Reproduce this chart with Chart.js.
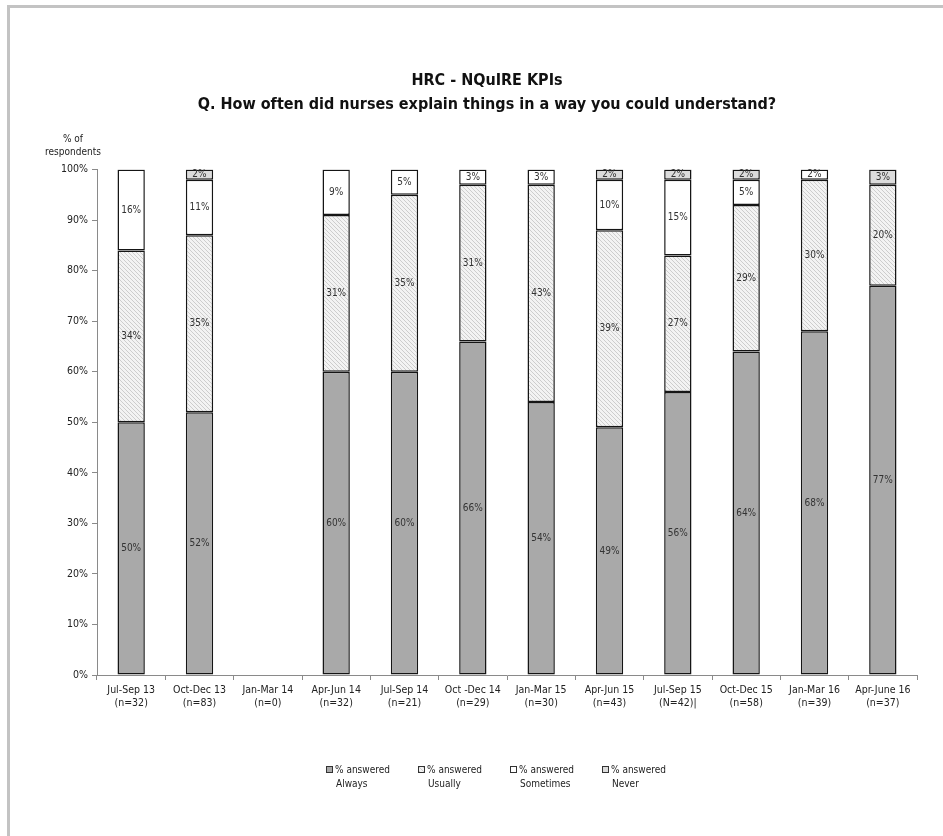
<!DOCTYPE html>
<html>
<head>
<meta charset="utf-8">
<script src="https://cdn.jsdelivr.net/npm/chart.js@4.4.1/dist/chart.umd.min.js"></script>
<style>
  body { margin: 0; background: #fff; }
  #frame { position: absolute; left: 7px; top: 5px; width: 960px; height: 900px;
           border-top: 3px solid #c3c3c3; border-left: 3px solid #c3c3c3; }
  #wrap { position: absolute; left: 0; top: 0; width: 943px; height: 836px; }
</style>
</head>
<body>
<div id="frame"></div>
<div id="wrap"><canvas id="chart" width="943" height="836"></canvas></div>
<script>
// quarters and sample sizes
const quarters = ['Jul-Sep 13', 'Oct-Dec 13', 'Jan-Mar 14', 'Apr-Jun 14', 'Jul-Sep 14', 'Oct -Dec 14',
                  'Jan-Mar 15', 'Apr-Jun 15', 'Jul-Sep 15', 'Oct-Dec 15', 'Jan-Mar 16', 'Apr-June 16'];
const sampleSizes = ['(n=32)', '(n=83)', '(n=0)', '(n=32)', '(n=21)', '(n=29)',
                     '(n=30)', '(n=43)', '(N=42)|', '(n=58)', '(n=39)', '(n=37)'];

// % of respondents per answer
const always    = [50, 52, null, 60, 60, 66, 54, 49, 56, 64, 68, 77];
const usually   = [34, 35, null, 31, 35, 31, 43, 39, 27, 29, 30, 20];
const sometimes = [16, 11, null,  9,  5,  3,  3, 10, 15,  5,  2,  0];
const never     = [ 0,  2, null,  0,  0,  0,  0,  2,  2,  2,  0,  3];

const yTicks = [0, 10, 20, 30, 40, 50, 60, 70, 80, 90, 100];

const FONT = '"Liberation Sans Narrow", "DejaVu Sans Condensed", "Liberation Sans", sans-serif';

// diagonal hatch for "Usually"
function makeHatch() {
    const c = document.createElement('canvas');
    c.width = 4; c.height = 4;
    const g = c.getContext('2d');
    g.fillStyle = '#f3f3f3';
    g.fillRect(0, 0, 4, 4);
    g.strokeStyle = '#cdcdcd';
    g.lineWidth = 1;
    g.beginPath();
    g.moveTo(0, 0); g.lineTo(4, 4);
    g.moveTo(-1, 3); g.lineTo(1, 5);
    g.moveTo(3, -1); g.lineTo(5, 1);
    g.stroke();
    return g.createPattern(c, 'repeat');
}
const hatch = makeHatch();

const labels = quarters.map((q, i) => [q, sampleSizes[i]]);

// value labels in the middle of each segment
const segmentLabels = {
    id: 'segmentLabels',
    afterDatasetsDraw(chart) {
        const ctx = chart.ctx;
        ctx.save();
        ctx.font = '10px ' + FONT;
        ctx.fillStyle = '#333';
        ctx.textAlign = 'center';
        ctx.textBaseline = 'middle';
        chart.data.datasets.forEach((ds, di) => {
            const meta = chart.getDatasetMeta(di);
            meta.data.forEach((bar, i) => {
                const v = ds.data[i];
                if (!v) return;
                const p = bar.getProps(['x', 'y', 'base'], true);
                ctx.fillText(v + '%', p.x, (p.y + p.base) / 2);
            });
        });
        ctx.restore();
    }
};

// y label and legend drawn by hand (two-line legend items)
const extras = {
    id: 'extras',
    afterDraw(chart) {
        const ctx = chart.ctx;
        const area = chart.chartArea;
        ctx.save();
        ctx.font = '10px ' + FONT;
        ctx.fillStyle = '#222';
        ctx.textAlign = 'center';
        ctx.textBaseline = 'middle';
        ctx.fillText('% of', area.left - 24, area.top - 30);
        ctx.fillText('respondents', area.left - 24, area.top - 17);

        const names = ['Always', 'Usually', 'Sometimes', 'Never'];
        const step = 92;
        const startX = (area.left + area.right) / 2 - 181;
        const y = 769;
        ctx.textAlign = 'left';
        chart.data.datasets.forEach((ds, i) => {
            const x = startX + i * step;
            ctx.fillStyle = ds.backgroundColor;
            ctx.fillRect(x, y - 3, 7, 7);
            ctx.strokeStyle = '#333';
            ctx.lineWidth = 1;
            ctx.strokeRect(x + 0.5, y - 2.5, 6, 6);
            ctx.fillStyle = '#222';
            ctx.fillText('% answered', x + 9, y + 1);
            ctx.fillText(names[i], x + 10, y + 15);
        });
        ctx.restore();
    }
};

const barStyle = { borderColor: '#151515', borderWidth: 1.5, borderSkipped: false,
                   categoryPercentage: 0.8, barPercentage: 0.5 };

new Chart(document.getElementById('chart'), {
    type: 'bar',
    data: {
        labels: labels,
        datasets: [
            Object.assign({ label: '% answered Always', data: always, backgroundColor: '#a9a9a9' }, barStyle),
            Object.assign({ label: '% answered Usually', data: usually, backgroundColor: hatch }, barStyle),
            Object.assign({ label: '% answered Sometimes', data: sometimes, backgroundColor: '#ffffff' }, barStyle),
            Object.assign({ label: '% answered Never', data: never, backgroundColor: '#dcdcdc' }, barStyle)
        ]
    },
    options: {
        responsive: false,
        animation: false,
        layout: { padding: { left: 57, right: 26, top: 0, bottom: 111 } },
        plugins: {
            legend: { display: false },
            tooltip: { enabled: false },
            title: {
                display: true,
                text: ['HRC - NQuIRE KPIs', 'Q. How often did nurses explain things in a way you could understand?'],
                color: '#111',
                font: { family: FONT, size: 16, weight: 'bold', lineHeight: 1.55 },
                padding: { top: 68, bottom: 52 }
            }
        },
        scales: {
            x: {
                stacked: true,
                grid: { drawOnChartArea: false, drawTicks: true, tickLength: 5, color: '#8a8a8a' },
                border: { color: '#8a8a8a' },
                ticks: { color: '#222', font: { family: FONT, size: 10.5 }, maxRotation: 0, autoSkip: false, padding: 4 },
                afterFit(scale) { scale.height = 50; }
            },
            y: {
                stacked: true,
                min: 0, max: 100,
                afterBuildTicks(scale) { scale.ticks = yTicks.map(v => ({ value: v })); },
                grid: { drawOnChartArea: false, drawTicks: true, tickLength: 5, color: '#8a8a8a' },
                border: { color: '#8a8a8a' },
                ticks: { color: '#222', font: { family: FONT, size: 10.5 }, padding: 4,
                         callback: v => v + '%' },
                afterFit(scale) { scale.width = 40; }
            }
        }
    },
    plugins: [segmentLabels, extras]
});
</script>
</body>
</html>
